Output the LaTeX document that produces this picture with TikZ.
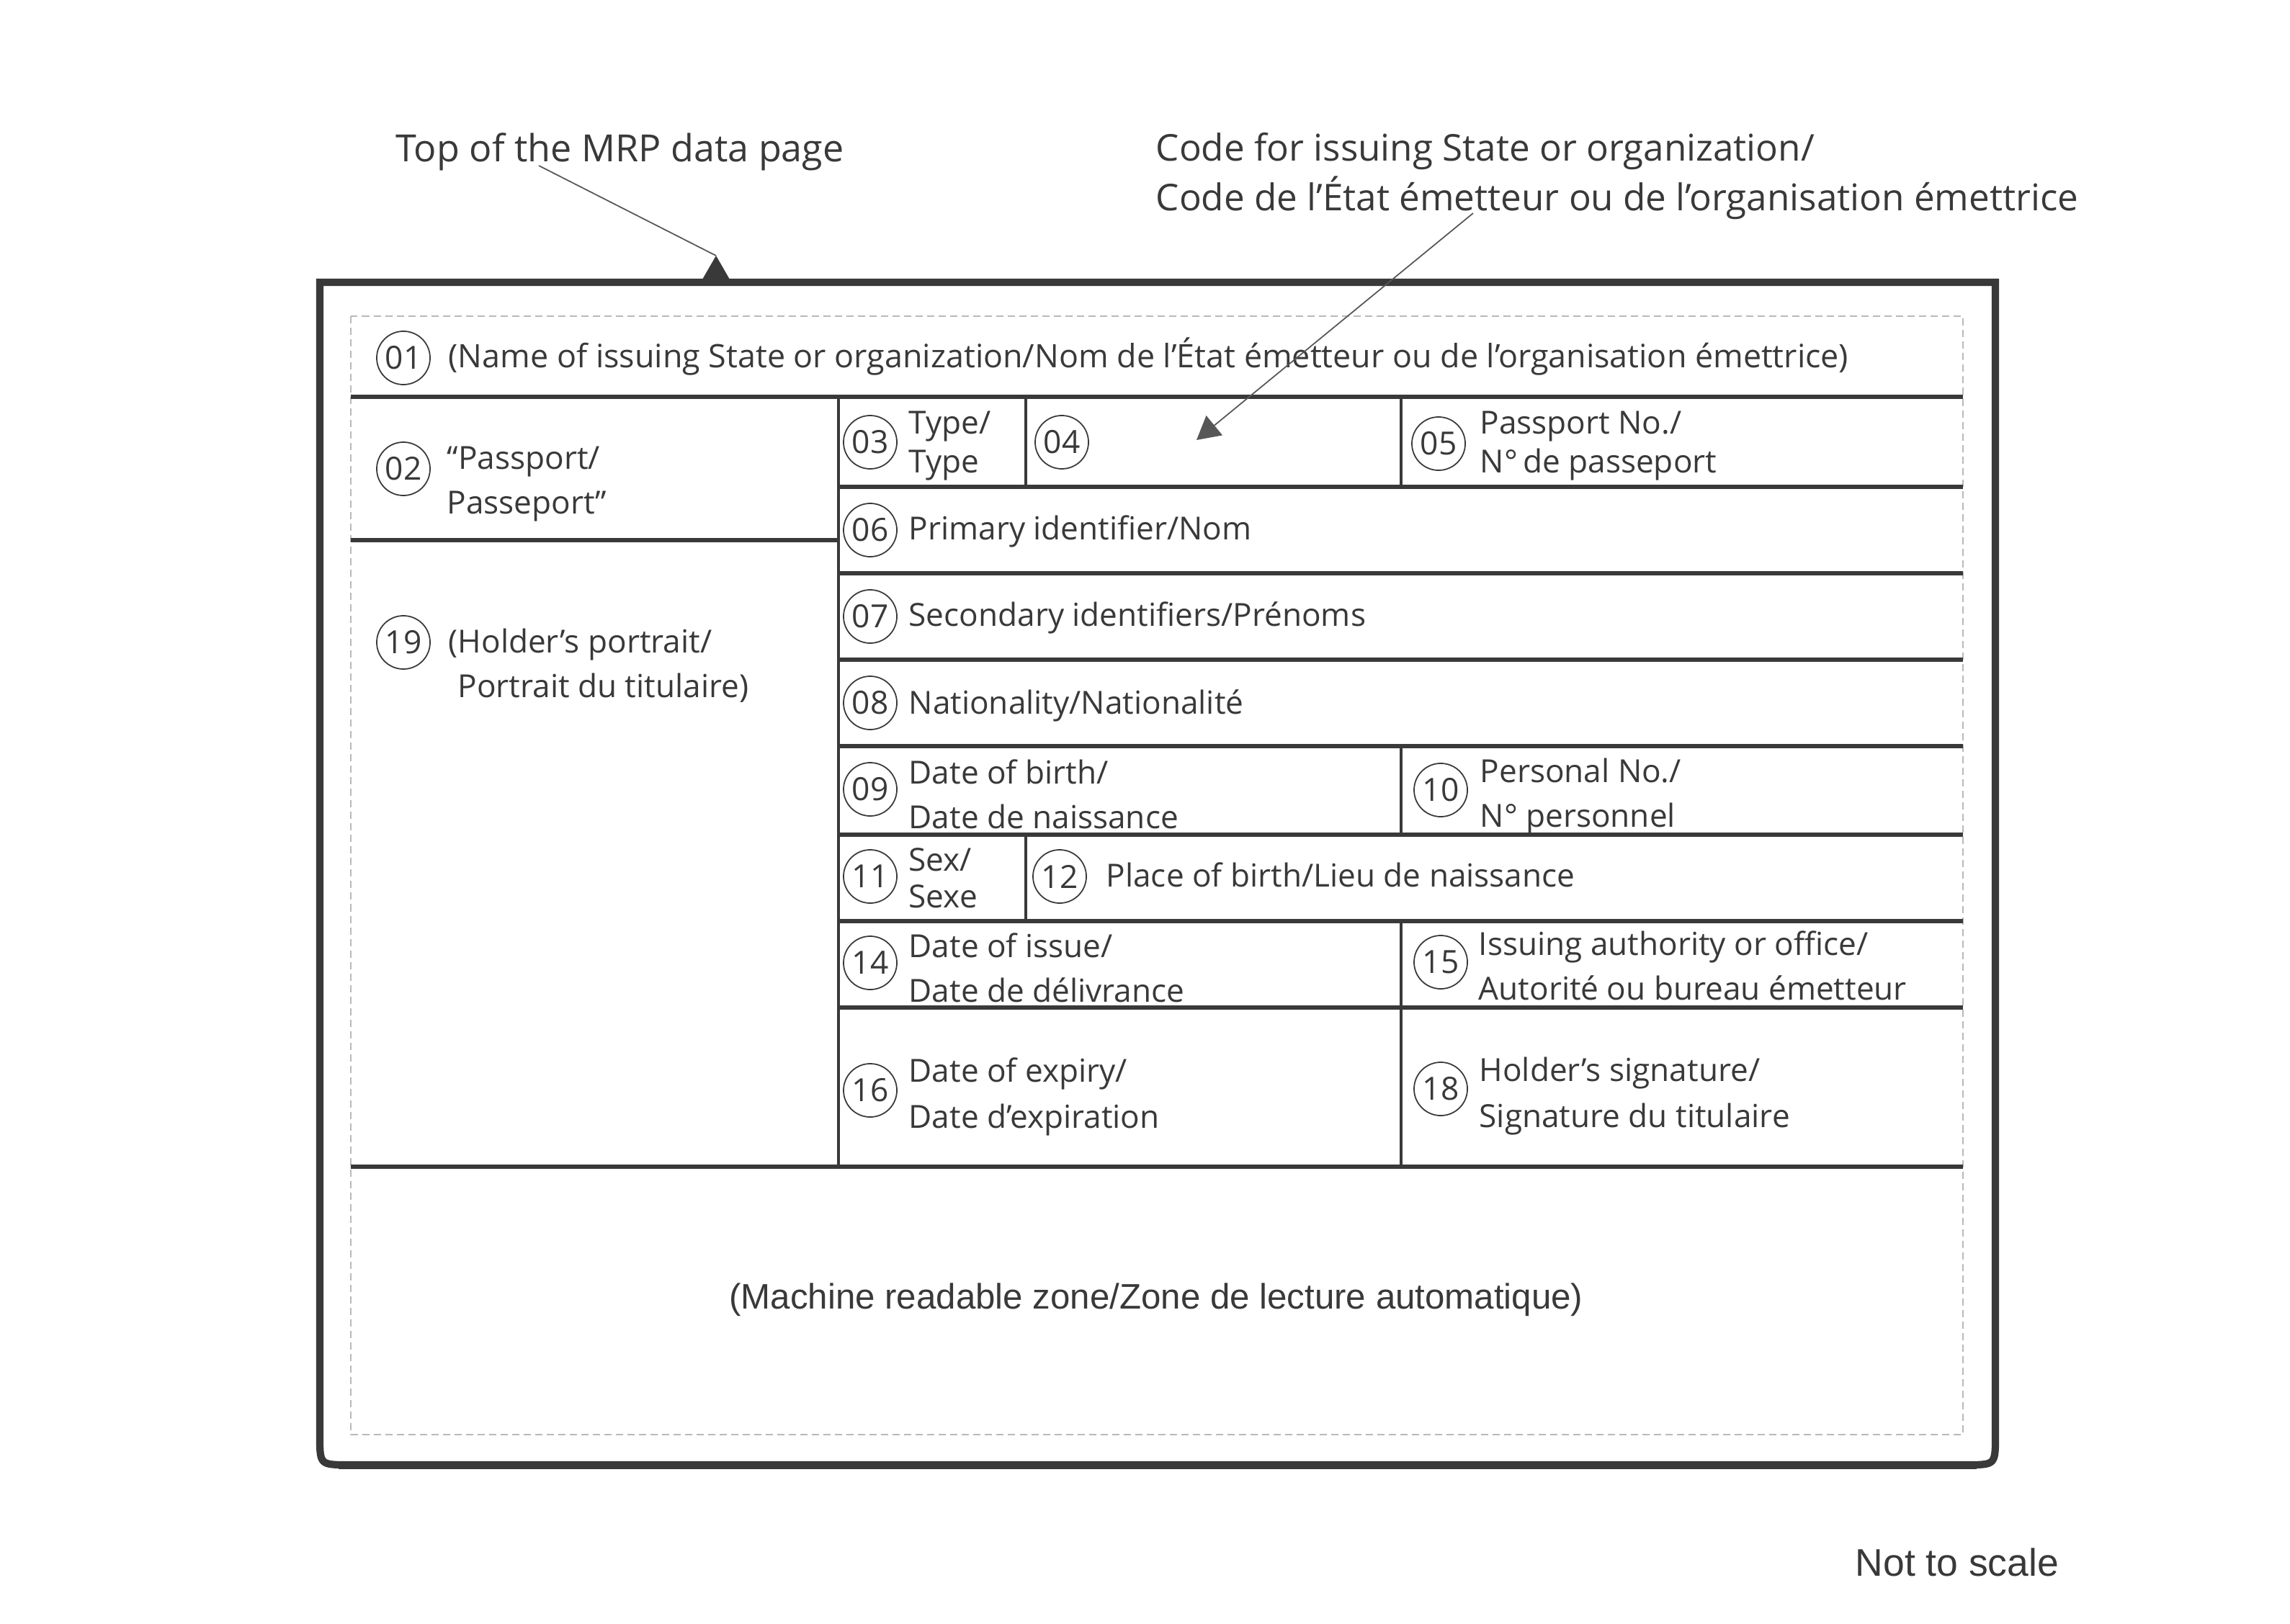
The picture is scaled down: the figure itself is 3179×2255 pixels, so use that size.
\documentclass[tikz,border=0pt]{standalone}
\usepackage{fontspec}
\setmainfont{Open Sans}
\newfontfamily\mrzfont{Liberation Sans}
\usepackage{tikz}
\usetikzlibrary{arrows.meta}
\usetikzlibrary{calc}
\definecolor{ink}{RGB}{58,57,58}
\tikzset{my number circle/.style={
  draw=ink,
  circle,
  line width=0.5pt,
  minimum size=0.74cm,
  inner sep=0pt,
  text=ink,
  font=\fontsize{12.6}{14}\selectfont
  }
}
\tikzset{my field text/.style={
  anchor=west,
  align=left,
  inner sep=0pt,
  text=ink,
  font=\fontsize{12.55}{17.6}\selectfont
  }
}
\tikzset{my label text/.style={
  anchor=west,
  align=left,
  inner sep=0pt,
  text=ink,
  font=\fontsize{14.55}{19.6}\selectfont
  }
}
\tikzset{my row line/.style={ink, line width=1.5pt}}
\tikzset{my col line/.style={ink, line width=1.2pt}}
\tikzset{my leader/.style={ink!85, line width=0.5pt}}

\begin{document}
\begin{tikzpicture}[x=0.01cm,y=-0.01cm]
    \useasboundingbox (0,0) rectangle (3179,2255);
    \fill[white] (0,0) rectangle (3179,2255);

    % data page outline
    \draw[ink,line width=2.9pt] (444,392) -- (2770,392) -- (2770,1994) .. controls (2770,2034) and (2770,2034) .. (2730,2034)
        -- (484,2034) .. controls (444,2034) and (444,2034) .. (444,1994) -- cycle;
    \draw[ink,line width=1.2pt] (470,2038) -- (2744,2038);
    \draw[gray!55,dash pattern=on 0.1cm off 0.06cm,line width=0.5pt] (487,439) rectangle (2725,1992);

    \foreach \y in {551,1620}
        \draw[my row line] (487,\y) -- (2725,\y);
    \foreach \y in {676,796,916,1036,1159,1279,1399}
        \draw[my row line] (1164,\y) -- (2725,\y);
    \draw[my row line] (487,750) -- (1164,750);
    \draw[my col line] (1164,551) -- (1164,1620);
    \foreach \a/\b in {551/676,1159/1279}
        \draw[my col line] (1424,\a) -- (1424,\b);
    \foreach \a/\b in {551/676,1036/1159,1279/1620}
        \draw[my col line] (1945,\a) -- (1945,\b);

    \foreach \x/\y/\i in {560/497/01,560/651/02,1208/614/03,1474/614/04,1997/616/05,1208/736/06,1208/856/07,1208/976/08,1208/1096/09,2000/1097/10,1208/1217/11,1471/1217/12,1208/1337/14,2000/1336/15,1208/1514/16,2000/1512/18,560/892/19}
        \node[my number circle] (n\i) at (\x,\y) {\i};

    \node[my field text,font=\fontsize{12.75}{17.6}\selectfont] (t01) at (622,495) {(Name of issuing State or organization/Nom de l’État émetteur ou de l’organisation émettrice)};
    \node[my field text] (t02) at (620,672) {“Passport/\\Passeport”};
    \node[my field text] (t19) at (622,924) {(Holder’s portrait/\\\hspace*{0.13cm}Portrait du titulaire)};
    \node[my field text,font=\fontsize{12.55}{15.6}\selectfont] (t03) at (1261,619) {Type/\\Type};
    \node[my field text,font=\fontsize{12.55}{15.6}\selectfont] (t05) at (2054,619) {Passport No./\\N°\,de passeport};
    \node[my field text] (t06) at (1261,738) {Primary identifier/Nom};
    \node[my field text] (t07) at (1261,858) {Secondary identifiers/Prénoms};
    \node[my field text] (t08) at (1261,980) {Nationality/Nationalité};
    \node[my field text] (t09) at (1261,1103) {Date of birth/\\Date de naissance};
    \node[my field text] (t10) at (2054,1106) {Personal No./\\N° personnel};
    \node[my field text,font=\fontsize{12.55}{14.5}\selectfont] (t11) at (1261,1219) {Sex/\\Sexe};
    \node[my field text] (t12) at (1535,1215) {Place of birth/Lieu de naissance};
    \node[my field text] (t14) at (1261,1344) {Date of issue/\\Date de délivrance};
    \node[my field text] (t15) at (2052,1341) {Issuing authority or office/\\Autorité ou bureau émetteur};
    \node[my field text,font=\fontsize{12.55}{18.4}\selectfont] (t16) at (1261,1523) {Date of expiry/\\Date d’expiration};
    \node[my field text,font=\fontsize{12.55}{18.4}\selectfont] (t18) at (2053,1522) {Holder’s signature/\\Signature du titulaire};

    \node[text=ink,inner sep=0pt,font=\mrzfont\fontsize{14}{16}\selectfont] (mrz) at (1605,1805) {(Machine readable zone/Zone de lecture automatique)};
    \node[anchor=west,text=ink,inner sep=0pt,font=\mrzfont\fontsize{15.2}{18}\selectfont] (scale) at (2575,2169) {Not to scale};

    \node[my label text,font=\fontsize{14.8}{19.6}\selectfont] (toplbl) at (549,211) {Top of the MRP data page};
    \node[my label text] (codelbl) at (1604,245) {Code for issuing State or organization/\\Code de l’État émetteur ou de l’organisation émettrice};

    % leaders
    \coordinate (topapex) at (994,355);
    \coordinate (toplead) at (748,230);
    \fill[ink] (topapex) -- ++(-19,33) -- ++(38,0) -- cycle;
    \draw[my leader] (toplead) -- (topapex);
    \coordinate (codelead) at (2045,296);
    \coordinate (codetip) at (1661,611);
    \draw[my leader,-{Triangle[length=0.32cm,width=0.35cm]}] (codelead) -- (codetip);

\end{tikzpicture}
\end{document}
